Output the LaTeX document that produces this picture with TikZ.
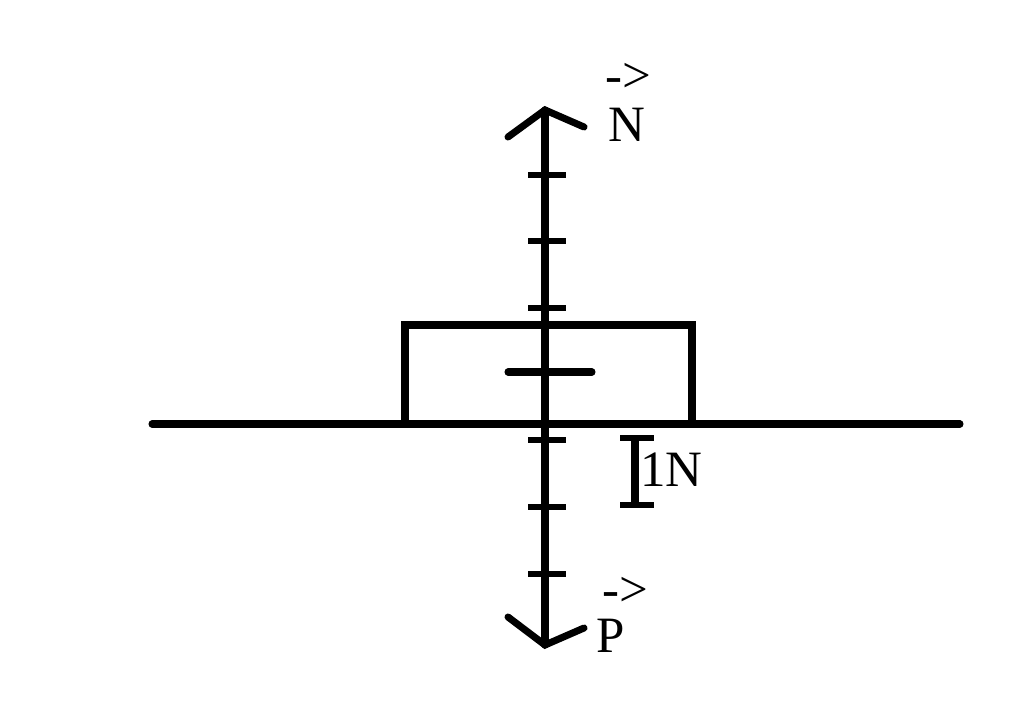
\documentclass[tikz,border=0pt]{standalone}
\usepackage{fontspec}
\setmainfont{Liberation Serif}
\usepackage{tikz}
\usetikzlibrary{positioning}
\begin{document}
\begin{tikzpicture}[
		x=0.02cm,y=-0.02cm,
		thick line/.style={
			line width=4pt,
			line cap=round,
		},
		tick/.style={
			line width=3pt,
		},
		lbl/.style={
			inner sep=0pt,
			font=\fontsize{29}{32}\selectfont,
		}
		]
		\useasboundingbox (0,0) rectangle (1024,709);
		
		\coordinate (top) at (545,110);
		\coordinate (bot) at (545,645);
		\coordinate (gl) at (152,424);
		\coordinate (gr) at (960,424);
		
		% ground and block
		\draw[thick line] (gl) -- (gr);
		\draw[line width=4pt] (405,424) -- (405,325) -- (692,325) -- (692,424);
		
		% force axis
		\draw[thick line] (bot) -- (top);
		\draw[thick line] (508,137) -- (top) -- (584,127);
		\draw[thick line] (508,617) -- (bot) -- (584,628);
		
		\foreach \ty in {175,241,308,440,507,574}
		\draw[tick] (528,\ty) -- (566,\ty);
		\draw[thick line] (508,372) -- (592,372);
		
		% scale
		\draw[tick] (620,438) -- (654,438);
		\draw[tick] (620,505) -- (654,505);
		\draw[line width=4pt] (635,438) -- (635,505);
		
		\node[lbl,anchor=west] (unit) at (640,470) {1N};
		\node[lbl] (nlbl) at (627,125) {N};
		\node[lbl] (narr) at (628,78) {->};
		\node[lbl] (plbl) at (611,636) {P};
		\node[lbl] (parr) at (625,592) {->};
		
\end{tikzpicture}
\end{document}
